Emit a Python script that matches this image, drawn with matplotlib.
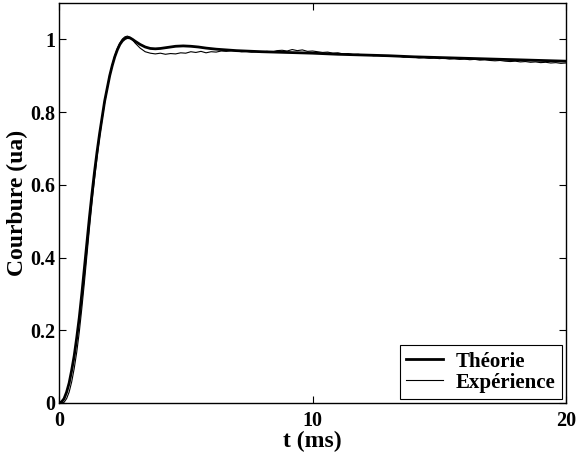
import matplotlib
matplotlib.use("Agg")
import matplotlib.pyplot as plt

# Theory curve
t_theo = [0.0, 0.1, 0.2, 0.3, 0.4, 0.5, 0.6, 0.7, 0.8, 0.9, 1.0, 1.1, 1.2, 1.3, 1.4,
          1.5, 1.6, 1.7, 1.8, 1.9, 2.0, 2.1, 2.2, 2.3, 2.4, 2.5, 2.6, 2.7, 2.8, 2.9,
          3.0, 3.2, 3.4, 3.6, 3.8, 4.0, 4.3, 4.6, 4.9, 5.2, 5.5, 5.8, 6.2, 6.6, 7.0,
          8.0, 9.0, 10.0, 11.0, 12.0, 13.0, 14.0, 15.0, 16.0, 17.0, 18.0, 19.0, 20.0]
y_theo = [0.0, 0.003, 0.012, 0.03, 0.055, 0.09, 0.13, 0.18, 0.235, 0.30, 0.37, 0.44,
          0.51, 0.575, 0.635, 0.69, 0.74, 0.785, 0.83, 0.865, 0.9, 0.928, 0.952, 0.971,
          0.986, 0.996, 1.002, 1.005, 1.004, 1.0, 0.995, 0.986, 0.979, 0.975, 0.974,
          0.975, 0.978, 0.981, 0.982, 0.981, 0.979, 0.976, 0.973, 0.971, 0.969,
          0.966, 0.964, 0.962, 0.959, 0.957, 0.955, 0.952, 0.950, 0.948, 0.946,
          0.944, 0.942, 0.940]

t_exp = [0.0, 0.1, 0.2, 0.3, 0.4, 0.5, 0.6, 0.7, 0.8, 0.9, 1.0, 1.1, 1.2, 1.3, 1.4,
         1.5, 1.6, 1.7, 1.8, 1.9, 2.0, 2.1, 2.2, 2.3, 2.4, 2.5, 2.6, 2.7, 2.8, 2.9,
         3.0, 3.2, 3.4, 3.6, 3.8, 4.0, 4.2, 4.4, 4.6, 4.8, 5.0, 5.2, 5.4, 5.6, 5.8,
         6.0, 6.2, 6.4, 6.6, 6.8, 7.0, 7.2, 7.4, 7.6, 7.8, 8.0, 8.2, 8.4, 8.6, 8.8,
         9.0, 9.2, 9.4, 9.6, 9.8, 10.0, 10.2, 10.4, 10.6, 10.8, 11.0, 11.2, 11.4,
         11.6, 11.8, 12.0, 12.2, 12.4, 12.6, 12.8, 13.0, 13.2, 13.4, 13.6, 13.8,
         14.0, 14.2, 14.4, 14.6, 14.8, 15.0, 15.2, 15.4, 15.6, 15.8, 16.0, 16.2,
         16.4, 16.6, 16.8, 17.0, 17.2, 17.4, 17.6, 17.8, 18.0, 18.2, 18.4, 18.6,
         18.8, 19.0, 19.2, 19.4, 19.6, 19.8, 20.0]
y_exp = [0.0, 0.0, 0.002, 0.012, 0.03, 0.058, 0.095, 0.14, 0.195, 0.26, 0.33, 0.405,
         0.48, 0.55, 0.615, 0.675, 0.73, 0.78, 0.825, 0.865, 0.9, 0.93, 0.955, 0.975,
         0.99, 1.001, 1.007, 1.009, 1.006, 0.999, 0.99, 0.976, 0.966, 0.962, 0.960,
         0.962, 0.959, 0.961, 0.960, 0.963, 0.962, 0.966, 0.964, 0.967, 0.963,
         0.966, 0.965, 0.968, 0.967, 0.969, 0.968, 0.966, 0.967, 0.965, 0.966,
         0.964, 0.967, 0.965, 0.969, 0.970, 0.968, 0.972, 0.969, 0.971, 0.967,
         0.968, 0.966, 0.964, 0.965, 0.962, 0.963, 0.960, 0.961, 0.958, 0.959,
         0.957, 0.958, 0.955, 0.956, 0.954, 0.955, 0.953, 0.954, 0.951, 0.952,
         0.951, 0.949, 0.950, 0.948, 0.949, 0.947, 0.948, 0.946, 0.947, 0.945,
         0.946, 0.944, 0.945, 0.943, 0.944, 0.942, 0.941, 0.942, 0.940, 0.939,
         0.940, 0.938, 0.939, 0.937, 0.938, 0.936, 0.937, 0.935, 0.936, 0.934,
         0.935]

x_ticks = [0, 10, 20]
y_ticks = [0, 0.2, 0.4, 0.6, 0.8, 1.0]
y_ticklabels = ["0", "0.2", "0.4", "0.6", "0.8", "1"]

plt.rcParams['font.family'] = ['Liberation Serif', 'DejaVu Serif']
plt.rcParams['font.weight'] = 'bold'

fig = plt.figure(figsize=(5.76, 4.57), dpi=100)
ax = fig.add_axes([59/576, 1 - 403/457, (566 - 59)/576, (403 - 3)/457])

ax.plot(t_theo, y_theo, color='black', lw=2.0, label='Théorie')
ax.plot(t_exp, y_exp, color='black', lw=0.8, label='Expérience')

ax.set_xlim(0, 20)
ax.set_ylim(0, 1.1)
ax.set_xticks(x_ticks)
ax.set_xticklabels([str(v) for v in x_ticks])
ax.set_yticks(y_ticks)
ax.set_yticklabels(y_ticklabels)
ax.tick_params(direction='in', length=5, width=0.8, top=True, right=True,
               labelsize=14.5)
ax.tick_params(axis='x', pad=6)
ax.tick_params(axis='y', pad=2.5)
for lab in ax.get_xticklabels() + ax.get_yticklabels():
    lab.set_fontweight('bold')
for s in ax.spines.values():
    s.set_linewidth(1.0)

ax.set_xlabel('t (ms)', fontsize=17, fontweight='bold', labelpad=0)
ax.set_ylabel('Courbure (ua)', fontsize=17, fontweight='bold', labelpad=2)

leg = ax.legend(loc='lower right', fontsize=15, frameon=True, fancybox=False,
                edgecolor='black', framealpha=1, borderaxespad=0.2,
                handlelength=1.8, handletextpad=0.6, labelspacing=0.05,
                borderpad=0.3)
leg.get_frame().set_linewidth(0.8)
for txt in leg.get_texts():
    txt.set_fontweight('bold')

fig.savefig('out.png', dpi=100)
